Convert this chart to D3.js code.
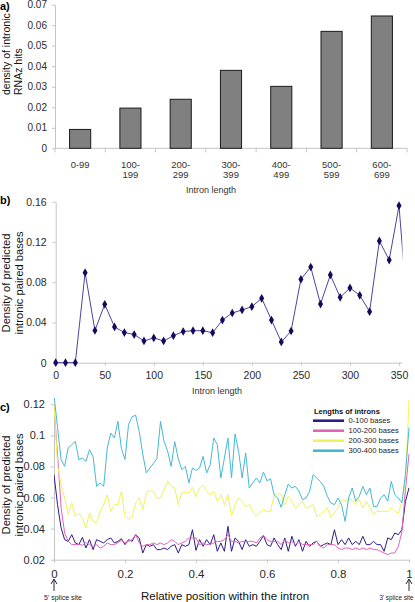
<!DOCTYPE html>
<html><head><meta charset="utf-8">
<script src="https://cdn.jsdelivr.net/npm/d3@7"></script>
<style>
body{margin:0;background:#fff}
svg{display:block}
text{font-family:"Liberation Sans",Arial,sans-serif}
</style>
</head><body>
<svg id="chart" width="415" height="602"></svg>
<script>
// ---------- Panel a data ----------
const aCategories = ["0-99","100-199","200-299","300-399","400-499","500-599","600-699"];
const aDensity = [0.0092, 0.0196, 0.0239, 0.0380, 0.0302, 0.0570, 0.0645];
const aTickLines = [["0-99"],["100-","199"],["200-","299"],["300-","399"],["400-","499"],["500-","599"],["600-","699"]];
const aYTicks = [0,0.01,0.02,0.03,0.04,0.05,0.06,0.07];

// ---------- Panel b data ----------
const bLengths = [0,10,20,30,40,50,60,70,80,90,100,110,120,130,140,150,160,170,180,190,200,210,220,230,240,250,260,270,280,290,300,310,320,330,340,350,360];
const bDensity = [0,0,0,0.0895,0.032,0.058,0.0355,0.030,0.028,0.0216,0.0246,0.0216,0.0268,0.031,0.0318,0.0318,0.0298,0.0424,0.0494,0.0524,0.0557,0.064,0.0424,0.0206,0.0315,0.0829,0.0951,0.0583,0.0872,0.065,0.0743,0.067,0.0507,0.121,0.102,0.156,0.034];
const bYTicks = [0,0.04,0.08,0.12,0.16];
const bXTicks = [0,50,100,150,200,250,300,350];

// ---------- Panel c data ----------
const cSeriesNames = ["0-100 bases","100-200 bases","200-300 bases","300-400 bases"];
const cLen0_100 = [0.0747,0.0554,0.0404,0.0329,0.0318,0.0361,0.0308,0.0297,0.0344,0.0275,
0.0329,0.0265,0.0329,0.0318,0.0308,0.0329,0.034,0.0308,0.0318,0.0335,
0.0297,0.0329,0.0318,0.0361,0.034,0.0243,0.0297,0.0286,0.0297,0.0265,
0.0265,0.0275,0.0265,0.0286,0.0297,0.0243,0.0297,0.0286,0.0297,0.0393,
0.026,0.0329,0.0286,0.0329,0.0297,0.0361,0.0254,0.0308,0.0254,0.0415,
0.0254,0.034,0.0318,0.0265,0.0329,0.0286,0.0297,0.0286,0.0318,0.0355,
0.0297,0.0286,0.034,0.0297,0.0265,0.034,0.0254,0.0351,0.0286,0.0329,
0.0254,0.0318,0.0286,0.0308,0.0318,0.0286,0.0297,0.0308,0.0297,0.0393,
0.0297,0.0329,0.0297,0.034,0.0297,0.0318,0.0297,0.0351,0.0297,0.0297,
0.0318,0.0297,0.0297,0.0254,0.034,0.0329,0.0372,0.0361,0.0393,0.0575,0.0662];
const cLen100_200 = [0.118,0.0876,0.0533,0.0372,0.0318,0.0297,0.0297,0.030,0.0293,0.031,
0.0297,0.0286,0.0297,0.0275,0.0286,0.0308,0.0297,0.0297,0.031,0.0325,
0.0308,0.0318,0.0329,0.0361,0.0308,0.0286,0.0297,0.0297,0.0308,0.0297,
0.0308,0.0297,0.0308,0.0329,0.0318,0.0297,0.0308,0.0318,0.034,0.034,
0.034,0.0297,0.0308,0.0297,0.0301,0.0308,0.0318,0.0318,0.0329,0.0361,
0.0318,0.0318,0.0308,0.0318,0.0318,0.0318,0.0318,0.0308,0.034,0.0355,
0.0329,0.0318,0.0318,0.0318,0.0297,0.0329,0.0308,0.0318,0.0297,0.0318,
0.0297,0.0297,0.0297,0.0297,0.0318,0.0286,0.0275,0.0297,0.0297,0.0297,
0.0275,0.0265,0.0275,0.0275,0.0265,0.0275,0.0265,0.0275,0.0265,0.0275,
0.0265,0.0265,0.0254,0.0243,0.0233,0.0243,0.0243,0.0286,0.038,0.065,0.088];
const cLen200_300 = [0.12,0.081,0.068,0.0597,0.049,0.0565,0.048,0.050,0.0468,0.0404,
0.050,0.0447,0.0436,0.0511,0.0554,0.0618,0.0511,0.0554,0.0554,0.064,
0.0479,0.046,0.0475,0.0565,0.0597,0.0522,0.063,0.0644,0.064,0.0597,
0.0597,0.065,0.0704,0.0672,0.0661,0.0554,0.063,0.0636,0.063,0.0665,
0.0605,0.0661,0.068,0.064,0.0618,0.064,0.0576,0.0618,0.0554,0.0618,
0.0479,0.0554,0.0597,0.0576,0.0543,0.0554,0.0511,0.0479,0.0505,0.0522,
0.0511,0.0511,0.0618,0.0629,0.0618,0.0554,0.0608,0.0576,0.0533,0.0554,
0.0576,0.0533,0.0543,0.0554,0.0479,0.049,0.0511,0.0533,0.0472,0.0505,
0.0533,0.0587,0.0576,0.0587,0.0587,0.0554,0.0587,0.0533,0.0576,0.0533,
0.049,0.0511,0.0511,0.0511,0.0511,0.0533,0.0511,0.0501,0.0576,0.07,0.123];
const cLen300_400 = [0.126,0.105,0.0844,0.0801,0.0919,0.094,0.0962,0.0844,0.0854,0.0833,
0.0908,0.0865,0.0672,0.0694,0.0672,0.0919,0.1015,0.0983,0.109,0.0915,
0.0844,0.107,0.112,0.113,0.1026,0.088,0.0758,0.079,0.082,0.085,
0.109,0.096,0.090,0.080,0.096,0.085,0.078,0.080,0.0694,0.079,
0.0775,0.079,0.0865,0.0758,0.0812,0.0983,0.094,0.0726,0.0854,0.0983,
0.0726,0.1009,0.0897,0.0726,0.0887,0.0661,0.0694,0.0726,0.0694,0.0764,
0.0708,0.0721,0.0618,0.0597,0.0537,0.0618,0.0687,0.0661,0.0672,0.064,
0.0586,0.0597,0.064,0.0747,0.0726,0.0704,0.0672,0.0608,0.0565,0.0554,
0.0597,0.0554,0.0447,0.0597,0.0661,0.0576,0.0608,0.0672,0.0618,0.0661,
0.0543,0.0543,0.0597,0.0618,0.0576,0.0704,0.0618,0.0597,0.0565,0.075,0.105];
const cYTicks = [0.02,0.04,0.06,0.08,0.1,0.12];
const cXTicks = [0,0.2,0.4,0.6,0.8,1];
const cColors = ["#2e1c88","#e262b8","#f2f25a","#45b9d3"];

const svg = d3.select("#chart");
svg.append("rect").attr("width",415).attr("height",602).attr("fill","#fff");
const axisGray = "#c4c4c4";

function styleAxis(g, fs){
  g.select(".domain").attr("stroke",axisGray);
  g.selectAll(".tick line").attr("stroke",axisGray);
  g.selectAll(".tick text").attr("fill","#2a2a2a").attr("font-size",fs)
    .attr("font-family",'"Liberation Sans",Arial,sans-serif');
}
function yTitle(lines, xs, yAnchor, fs, anchor){
  const t = svg.append("text").attr("transform",`translate(0,${yAnchor}) rotate(-90)`)
    .attr("text-anchor",anchor).attr("font-size",fs).attr("fill","#111");
  lines.forEach((l,i)=> t.append("tspan").attr("x",0).attr("y",xs[i]).text(l));
}

// ================= Panel a =================
const ax = d3.scaleBand().domain(aCategories).range([55,407]).paddingInner(0.58).paddingOuter(0.29);
const ay = d3.scaleLinear().domain([0,0.07]).range([148.3,4.7]);
const aBound = d3.scaleLinear().domain([0,aCategories.length]).range(ax.range());

const gay = svg.append("g").attr("transform","translate(55,0)")
  .call(d3.axisLeft(ay).tickValues(aYTicks).tickFormat(d=>d===0?"0":d3.format(".2f")(d)).tickSize(3).tickSizeOuter(0).tickPadding(5));
styleAxis(gay,10);

svg.append("line").attr("x1",aBound(0)).attr("x2",aBound(aCategories.length)).attr("y1",ay(0)).attr("y2",ay(0)).attr("stroke",axisGray);
svg.append("g").selectAll("line").data(d3.range(aCategories.length+1)).join("line")
  .attr("x1",d=>aBound(d)).attr("x2",d=>aBound(d)).attr("y1",ay(0)).attr("y2",ay(0)+4).attr("stroke",axisGray);

svg.append("g").selectAll("rect").data(aCategories).join("rect")
  .attr("x",d=>ax(d)).attr("width",ax.bandwidth())
  .attr("y",(d,i)=>ay(aDensity[i])).attr("height",(d,i)=>ay(0)-ay(aDensity[i]))
  .attr("fill","#808080").attr("stroke","#1a1a1a").attr("stroke-width",1);

aCategories.forEach((c,i)=>{
  const t = svg.append("text").attr("text-anchor","middle").attr("font-size",9.5).attr("fill","#333");
  aTickLines[i].forEach((l,j)=> t.append("tspan").attr("x",ax(c)+ax.bandwidth()/2).attr("y",168+j*10).text(l));
});
svg.append("text").attr("x",211).attr("y",192.5).attr("text-anchor","middle").attr("font-size",9).attr("fill","#333").text("Intron length");
svg.append("text").attr("x",0).attr("y",10).attr("font-size",11).attr("font-weight","bold").text("a)");
yTitle(["density of intronic","RNAz hits"],[9.5,22],95,10.5,"start");

// ================= Panel b =================
const bx = d3.scaleLinear().domain([0,350]).range([55.7,399]);
const by = d3.scaleLinear().domain([0,0.16]).range([362.7,201.7]);

const gby = svg.append("g").attr("transform","translate(55.7,0)")
  .call(d3.axisLeft(by).tickValues(bYTicks).tickFormat(d=>d===0?"0":d3.format(".2f")(d)).tickSize(3).tickSizeOuter(0).tickPadding(6));
styleAxis(gby,10.5);
const gbx = svg.append("g").attr("transform",`translate(0,${by(0)})`)
  .call(d3.axisBottom(bx).tickValues(bXTicks).tickFormat(d3.format("d")).tickSize(3).tickSizeOuter(0).tickPadding(6));
styleAxis(gbx,10.5);
gbx.select(".domain").attr("d",`M${bx(0)},0.5H402`);

svg.append("clipPath").attr("id","clipB").append("rect").attr("x",50).attr("y",190).attr("width",352.5).attr("height",180);
const bPts = bLengths.map((l,i)=>({l, v:bDensity[i]}));
svg.append("path").datum(bPts).attr("clip-path","url(#clipB)")
  .attr("d",d3.line().x(d=>bx(d.l)).y(d=>by(d.v)))
  .attr("fill","none").attr("stroke","#4a46a0").attr("stroke-width",1);
svg.append("g").selectAll("path").data(bPts.filter(d=>d.l<=350)).join("path")
  .attr("transform",d=>`translate(${bx(d.l)},${by(d.v)})`)
  .attr("d",d3.symbol(d3.symbolDiamond,22))
  .attr("fill","#150a5c");
svg.append("text").attr("x",217).attr("y",394).attr("text-anchor","middle").attr("font-size",9).attr("fill","#333").text("Intron length");
svg.append("text").attr("x",0).attr("y",204).attr("font-size",11).attr("font-weight","bold").text("b)");
yTitle(["Density of predicted","intronic paired bases"],[10,23],283,11.2,"middle");

// ================= Panel c =================
const cx = d3.scaleLinear().domain([0,1]).range([54,409]);
const cy = d3.scaleLinear().domain([0.02,0.12]).range([559.7,404.3]);
const cPos = d3.range(cLen0_100.length).map(i=>i/(cLen0_100.length-1));

const gcy = svg.append("g").attr("transform","translate(54,0)")
  .call(d3.axisLeft(cy).tickValues(cYTicks).tickFormat(d3.format("~g")).tickSize(3).tickSizeOuter(0).tickPadding(6));
styleAxis(gcy,11);
const gcx = svg.append("g").attr("transform",`translate(0,${cy(0.02)})`)
  .call(d3.axisBottom(cx).tickValues(cXTicks).tickFormat(d3.format("~g")).tickSize(3).tickSizeOuter(0).tickPadding(7));
styleAxis(gcx,11.5);

svg.append("clipPath").attr("id","clipC").append("rect").attr("x",54).attr("y",398).attr("width",357).attr("height",162);
const cAll = [cLen0_100,cLen100_200,cLen200_300,cLen300_400];
const cLine = d3.line().x((d,i)=>cx(cPos[i])).y(d=>cy(d));
svg.append("g").attr("clip-path","url(#clipC)").selectAll("path").data(cAll).join("path")
  .attr("d",d=>cLine(d)).attr("fill","none").attr("stroke",(d,i)=>cColors[i]).attr("stroke-width",1);

// legend
const lg = svg.append("g");
lg.append("text").attr("x",314).attr("y",413.5).attr("font-size",7.5).attr("font-weight","bold").attr("fill","#111").text("Lengths of introns");
cSeriesNames.forEach((n,i)=>{
  const yy = 420.7 + i*10;
  lg.append("line").attr("x1",313).attr("x2",344).attr("y1",yy).attr("y2",yy).attr("stroke",cColors[i]).attr("stroke-width",2.6);
  lg.append("text").attr("x",348.5).attr("y",yy+2.7).attr("font-size",7.6).attr("fill","#222").text(n);
});

// annotations: arrows pointing at the splice sites
[0,1].forEach(v=>{
  const g = svg.append("g").attr("transform",`translate(${cx(v)},0)`);
  g.append("line").attr("x1",0).attr("x2",0).attr("y1",580).attr("y2",591).attr("stroke","#111").attr("stroke-width",0.9);
  g.append("path").attr("d","M-3,584L0,579L3,584").attr("fill","none").attr("stroke","#111").attr("stroke-width",0.9);
});
svg.append("text").attr("x",63).attr("y",599.5).attr("text-anchor","middle").attr("font-size",7).attr("fill","#222").text("5' splice site");
svg.append("text").attr("x",413.5).attr("y",599.5).attr("text-anchor","end").attr("font-size",6.3).attr("fill","#222").text("3' splice site");
svg.append("text").attr("x",225).attr("y",600).attr("text-anchor","middle").attr("font-size",11.5).attr("fill","#111").text("Relative position within the intron");
svg.append("text").attr("x",0).attr("y",411).attr("font-size",11).attr("font-weight","bold").text("c)");
yTitle(["Density of predicted","intronic paired bases"],[10,23],485,11.2,"middle");
</script>
</body></html>
